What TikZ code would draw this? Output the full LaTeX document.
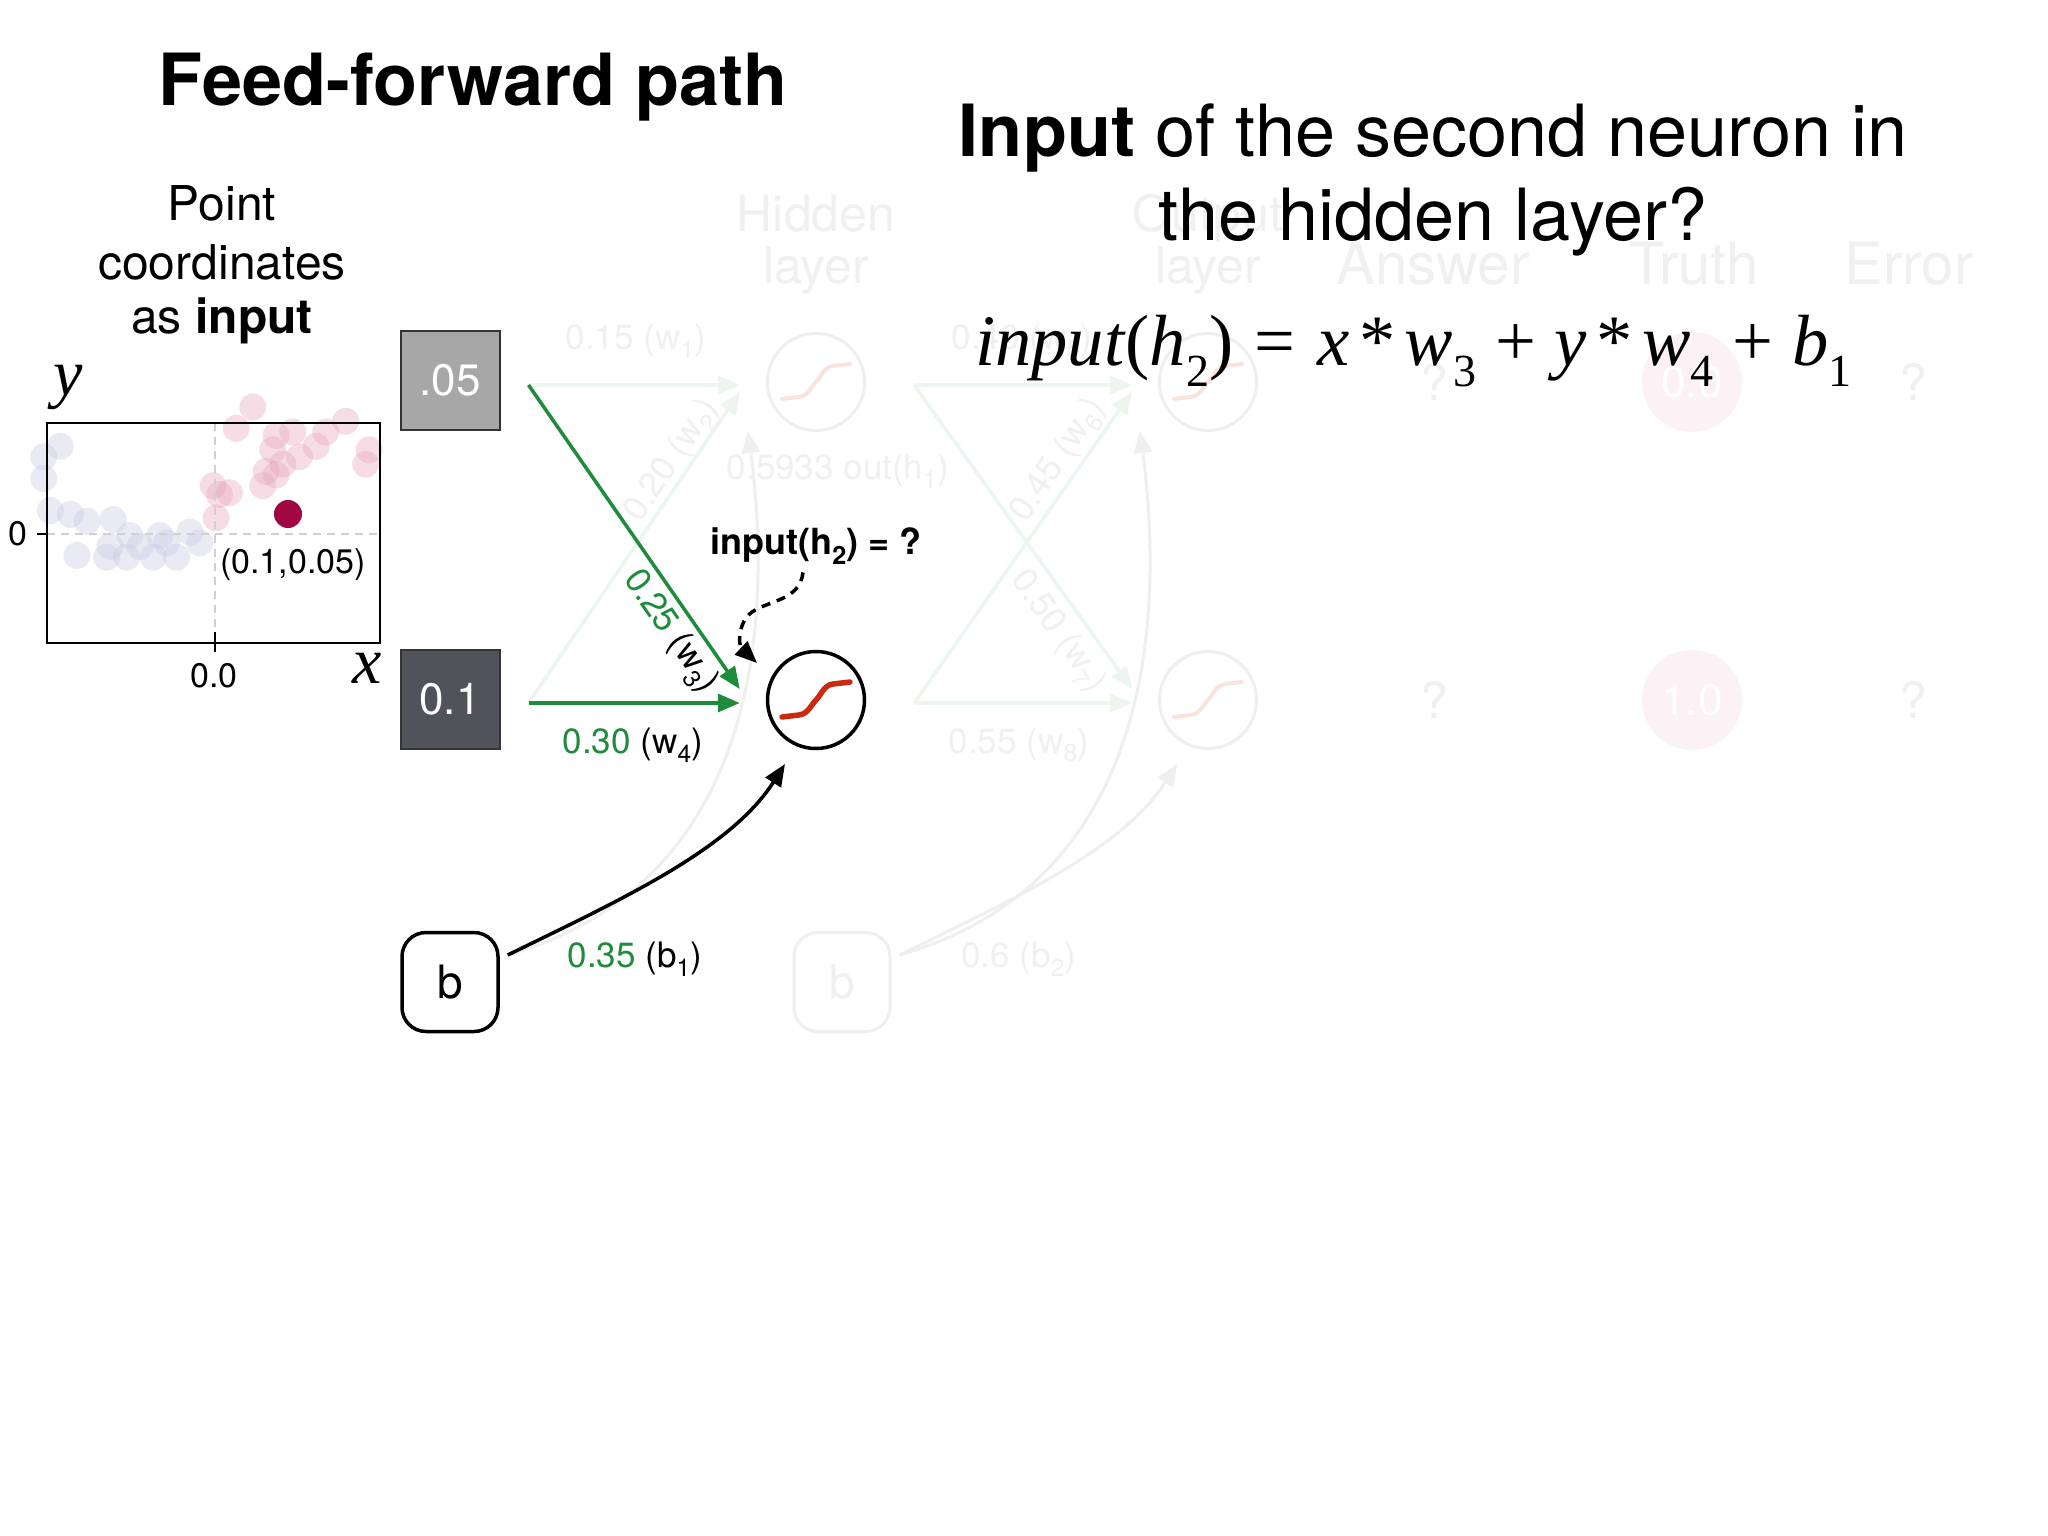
\documentclass[tikz,border=0pt]{standalone}
\usepackage{fontspec}
\setmainfont{TeX Gyre Heros}
\newfontfamily\tms{Liberation Serif}
\usetikzlibrary{arrows.meta,calc}
\definecolor{wgreen}{HTML}{1E8C3A}
\definecolor{sigred}{HTML}{CC2A10}
\definecolor{boxgray}{HTML}{A7A7A7}
\definecolor{boxdark}{HTML}{50545A}
\definecolor{dotred}{HTML}{A0063F}
\definecolor{ftext}{HTML}{F0F0F0}
\definecolor{fcirc}{HTML}{EFEFEF}
\definecolor{fgreen}{HTML}{ECF5EE}
\definecolor{fsigc}{HTML}{F8E4DC}
\definecolor{fpink}{HTML}{FCF2F5}
\definecolor{dotblue}{HTML}{C8C8E4}
\definecolor{dotpink}{HTML}{E8A8BC}
\definecolor{dashgray}{HTML}{D0D0D0}
\newcommand\fsz[1]{\fontsize{#1}{#1}\selectfont}
\newcommand\sbs[1]{\raisebox{-0.3em}{\fsz{46}#1}}
\tikzset{
  inbox/.style={draw=black!80, line width=2pt, minimum width=99pt, minimum height=99pt, inner sep=0pt, text=white, font=\fsz{44}},
  biasbox/.style={draw=black, line width=3.5pt, rounded corners=24pt, minimum width=96pt, minimum height=99pt, inner sep=0pt, font=\fsz{46}},
  neuron/.style={circle, draw=black, line width=3.5pt, minimum size=97pt, inner sep=0pt},
  fneuron/.style={circle, draw=fcirc, line width=3pt, minimum size=97pt, inner sep=0pt},
  truthn/.style={circle, fill=fpink, minimum size=100pt, inner sep=0pt, text=white, font=\fsz{44}},
  fbias/.style={draw=fcirc, line width=3pt, rounded corners=24pt, minimum width=96pt, minimum height=99pt, inner sep=0pt, text=ftext, font=\fsz{46}},
  warrow/.style={draw=wgreen, line width=3.5pt, -{Triangle[length=22pt,width=18pt]}},
  farrow/.style={draw=fgreen, line width=3.5pt, -{Triangle[length=22pt,width=18pt]}},
  barrow/.style={draw=black, line width=3.5pt, -{Triangle[length=22pt,width=18pt]}},
  fbarrow/.style={draw=fcirc, line width=3pt, -{Triangle[length=22pt,width=18pt]}},
  lbl/.style={font=\fsz{35}, inner sep=0pt},
  flbl/.style={font=\fsz{35}, inner sep=0pt, text=ftext},
  fhead/.style={font=\fsz{50}, inner sep=0pt, text=ftext, anchor=base},
  sig/.style={draw=sigred, line width=5.5pt, line cap=round},
  fsig/.style={draw=fsigc, line width=4pt, line cap=round},
  dotb/.style={fill=dotblue, fill opacity=0.38},
  dotp/.style={fill=dotpink, fill opacity=0.38},
  dashln/.style={draw=dashgray, line width=1.5pt, dash pattern=on 8pt off 6pt},
}
\begin{document}
\begin{tikzpicture}[x=1pt,y=-1pt]
\useasboundingbox (0,0) rectangle (2048,1536);
\fill[white] (0,0) rectangle (2048,1536);

% ---------- ghost of the previous slide ----------
\node[fhead] (gh1) at (816,231) {Hidden};
\node[fhead] (gh2) at (816,283) {layer};
\node[fhead] (go1) at (1208,231) {Output};
\node[fhead] (go2) at (1208,283) {layer};
\node[fhead, font=\fsz{58}] (gans) at (1433,284) {Answer};
\node[fhead, font=\fsz{58}] (gtru) at (1694,284) {Truth};
\node[fhead, font=\fsz{58}] (gerr) at (1909,284) {Error};

\node[fneuron] (h1) at (816,382) {};
\node[fneuron] (o1) at (1208,382) {};
\node[fneuron] (o2) at (1208,700) {};
\draw[fsig, shift={(h1.center)}] (-34,17) -- (-17,15) .. controls (-8,14) and (-5,5) .. (0,0) .. controls (5,-5) and (8,-15) .. (17,-16) -- (34,-18);
\draw[fsig, shift={(o1.center)}] (-34,17) -- (-17,15) .. controls (-8,14) and (-5,5) .. (0,0) .. controls (5,-5) and (8,-15) .. (17,-16) -- (34,-18);
\draw[fsig, shift={(o2.center)}] (-34,17) -- (-17,15) .. controls (-8,14) and (-5,5) .. (0,0) .. controls (5,-5) and (8,-15) .. (17,-16) -- (34,-18);
\node[truthn] (t0) at (1692,382) {0.0};
\node[truthn] (t1) at (1692,700) {1.0};
\node[fhead, anchor=center] (qa1) at (1434,382) {?};
\node[fhead, anchor=center] (qa2) at (1434,700) {?};
\node[fhead, anchor=center] (qe1) at (1913,382) {?};
\node[fhead, anchor=center] (qe2) at (1913,700) {?};
\node[fbias] (b2) at (842,982) {b};

\node[inbox, fill=boxgray] (x05) at (450,380) {.05};
\node[inbox, fill=boxdark] (x01) at (450,699) {0.1};
\node[biasbox] (bb) at (450,982) {b};
\node[neuron] (h2) at (816,700) {};

% faded connectors
\draw[farrow] ($(x05.east)+(28,5)$) -- ($(h1.west)+(-26,3)$);
\draw[farrow] ($(x01.east)+(28,4)$) -- ($(h1.west)+(-26,10)$);
\draw[fbarrow] ($(bb.east)+(8,-27)$) .. controls (770,880) and (770,600) .. ($(h1.center)+(-68,49)$);
\draw[farrow] ($(h1.east)+(48,3)$) -- ($(o1.west)+(-26,3)$);
\draw[farrow] ($(h2.east)+(48,3)$) -- ($(o1.west)+(-26,10)$);
\draw[farrow] ($(h1.east)+(48,3)$) -- ($(o2.west)+(-26,-11)$);
\draw[farrow] ($(h2.east)+(48,3)$) -- ($(o2.west)+(-26,3)$);
\draw[fbarrow] ($(b2.east)+(8,-27)$) .. controls (1162,880) and (1162,600) .. ($(o1.center)+(-68,49)$);
\draw[fbarrow] ($(b2.east)+(8,-27)$) .. controls (1012,900) and (1122,850) .. ($(o2.center)+(-31,64)$);
\node[flbl] (lw1) at (636,341) {0.15 (w\textsubscript{1})};
\node[flbl, rotate=56] (lw2) at (673,461) {0.20 (w\textsubscript{2})};
\node[flbl] (lout) at (838,471) {0.5933 out(h\textsubscript{1})};
\node[flbl] (lw5) at (1022,341) {0.40 (w\textsubscript{5})};
\node[flbl, rotate=56] (lw6) at (1059,461) {0.45 (w\textsubscript{6})};
\node[flbl, rotate=-55] (lw7) at (1058,632) {0.50 (w\textsubscript{7})};
\node[flbl] (lw8) at (1019,745) {0.55 (w\textsubscript{8})};
\node[flbl] (lb2) at (1019,959) {0.6 (b\textsubscript{2})};

% ---------- titles ----------
\node[anchor=base, inner sep=0pt, font=\bfseries\fsz{72}] (title) at (473,106) {Feed-forward path};
\node[anchor=base, inner sep=0pt, font=\fsz{72}] (q1) at (1433,157) {\textbf{Input} of the second neuron in};
\node[anchor=base, inner sep=0pt, font=\fsz{72}] (q2) at (1433,240) {the hidden layer?};
\node[anchor=base west, inner sep=0pt] (fm) at (975,365) {\tms\fsz{72.5}\textit{input}(\textit{h}\sbs{2})\hspace{0.3em}=\hspace{0.3em}\textit{x}\hspace{0.13em}*\hspace{0.13em}\textit{w}\sbs{3}\hspace{0.26em}+\hspace{0.26em}\textit{y}\hspace{0.13em}*\hspace{0.13em}\textit{w}\sbs{4}\hspace{0.26em}+\hspace{0.26em}\textit{b}\sbs{1}};

\node[anchor=base, inner sep=0pt, font=\fsz{48}] (pc1) at (222,220) {Point};
\node[anchor=base, inner sep=0pt, font=\fsz{48}] (pc2) at (222,279) {coordinates};
\node[anchor=base, inner sep=0pt, font=\fsz{48}] (pc3) at (222,333) {as \textbf{input}};

% ---------- scatter plot ----------
\foreach \a/\b in {-0.010/0.154, 0.040/0.106, -0.010/0.252, 0.010/0.398, 0.070/0.415, 0.120/0.447, 0.199/0.439, 0.090/0.602, 0.179/0.610, 0.249/0.512, 0.279/0.561, 0.319/0.610, 0.359/0.545, 0.389/0.610, 0.429/0.496, 0.459/0.545, 0.239/0.610, 0.189/0.561, 0.339/0.512}
  \fill[dotb] ({47+333*\a},{423+220*\b}) circle[radius=13.5pt];
\foreach \a/\b in {0.508/0.431, 0.518/0.325, 0.499/0.285, 0.548/0.317, 0.618/-0.073, 0.568/0.024, 0.648/0.285, 0.658/0.220, 0.678/0.122, 0.708/0.187, 0.688/0.057, 0.738/0.041, 0.758/0.154, 0.808/0.106, 0.837/0.041, 0.897/-0.008, 0.967/0.122, 0.957/0.187, 0.688/0.236}
  \fill[dotp] ({47+333*\a},{423+220*\b}) circle[radius=13.5pt];
\draw[dashln] (215,423) -- (215,643);
\draw[dashln] (47,534) -- (380,534);
\draw[black, line width=2pt] (47,423) rectangle (380,643);
\draw[black, line width=2pt] (37,534) -- (47,534);
\draw[black, line width=2pt] (215,632) -- (215,652);
\fill[dotred] (288,514) circle[radius=14pt];
\node[lbl, font=\fsz{34}] (zy) at (18,534) {0};
\node[lbl, font=\fsz{34}] (zx) at (214,676) {0.0};
\node[lbl, font=\fsz{34}] (pt) at (293,565) {(0.1,0.05)};
\node[inner sep=0pt, font=\tms\itshape\fsz{66}] (ay) at (68,387) {y};
\node[inner sep=0pt, font=\tms\itshape\fsz{66}] (ax) at (367,668) {x};

% ---------- highlighted neuron ----------
\draw[sig, shift={(h2.center)}] (-34,17) -- (-17,15) .. controls (-8,14) and (-5,5) .. (0,0) .. controls (5,-5) and (8,-15) .. (17,-16) -- (34,-18);
\draw[warrow] ($(x05.east)+(28,5)$) -- ($(h2.west)+(-26,-11)$);
\draw[warrow] ($(x01.east)+(28,4)$) -- ($(h2.west)+(-26,3)$);
\draw[barrow] ($(bb.east)+(8,-27)$) .. controls (620,900) and (730,850) .. ($(h2.center)+(-31,64)$);
\node[lbl, rotate=-55] (lw3) at (670,632) {{\color{wgreen}0.25} (w\textsubscript{3})};
\node[lbl] (lw4) at (633,745) {{\color{wgreen}0.30} (w\textsubscript{4})};
\node[lbl] (lb1) at (635,959) {{\color{wgreen}0.35} (b\textsubscript{1})};
\node[lbl, font=\bfseries\fsz{36}] (qh) at (816,546) {input(h\textsubscript{2}) = ?};
\draw[barrow, dash pattern=on 9pt off 7pt] ($(qh.south)+(-13,8)$) .. controls (800,600) and (770,600) .. (752,612) .. controls (738,622) and (738,645) .. ($(h2.center)+(-59,-37)$);
\end{tikzpicture}
\end{document}
